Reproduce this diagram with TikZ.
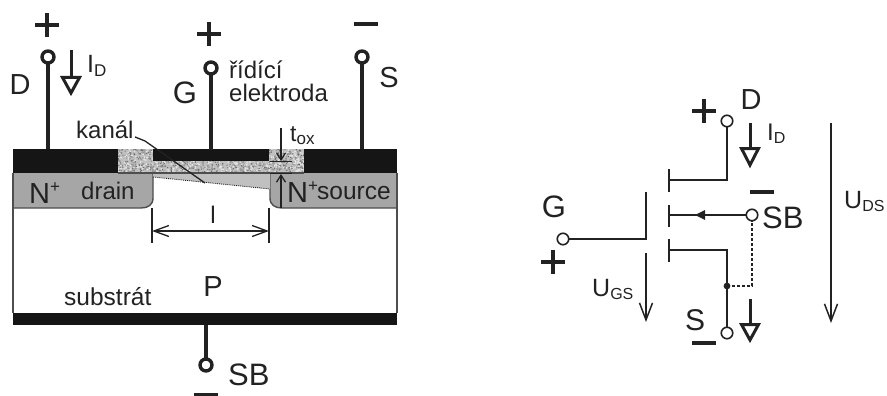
\documentclass[tikz,border=0pt]{standalone}
\usepackage{fontspec}
\setmainfont{Liberation Sans}
\usetikzlibrary{arrows.meta}
\definecolor{ink}{HTML}{222222}
\definecolor{metal}{HTML}{151515}
\definecolor{nreg}{HTML}{A6A6A6}
\definecolor{chan}{HTML}{C0C0C0}
\definecolor{oxide}{HTML}{C0C0C0}
\tikzset{
  lab/.style={inner sep=0,text=ink,font=\fontsize{#1}{#1}\selectfont},
  lab/.default=27,
  term/.style={circle,draw=ink,line width=3.4pt,fill=white,minimum size=12pt,inner sep=0,outer sep=0},
  oterm/.style={circle,draw=ink,line width=1.6pt,fill=white,minimum size=11.5pt,inner sep=0,outer sep=0},
  lead/.style={draw=ink,line width=3.4pt},
  wire/.style={draw=ink,line width=1.6pt},
  sign/.style={draw=ink,line width=4.6pt},
  hollow/.style={draw=ink,line width=3pt,fill=white,line join=miter},
  thin line/.style={draw=ink,line width=1.3pt},
  barb/.style={thin line,-{Straight Barb[length=7pt,width=9pt]}},
  volt/.style={draw=ink,line width=1.5pt,-{Straight Barb[length=17pt,width=13pt]}},
}
\newcommand{\plusmark}[2]{\draw[sign] (#1-12,#2) -- (#1+12,#2) (#1,#2-12) -- (#1,#2+12);}
\newcommand{\minusmark}[2]{\draw[sign] (#1-12,#2) -- (#1+12,#2);}
\newcommand{\currentarrow}[4]{% x, top, triangle top, tip
  \draw[draw=ink,line width=3pt] (#1,#2) -- (#1,#3);
  \draw[hollow] (#1-8.5,#3+1.5) -- (#1+8.5,#3+1.5) -- (#1,#4-3) -- cycle;}
\begin{document}
\begin{tikzpicture}[x=1pt,y=-1pt]
\useasboundingbox (0,0) rectangle (887,396);
% --- cross-section ---
\fill[white] (13,173) rectangle (397,325);
% N+ regions
\fill[nreg] (13,173) -- (153,173) -- (153,198) .. controls (153,205) and (148,208) .. (141,208) -- (13,208) -- cycle;
\fill[nreg] (397,173) -- (270,173) -- (270,198) .. controls (270,205) and (275,208) .. (282,208) -- (397,208) -- cycle;
\draw[draw=ink!80,line width=1.4pt] (153,173) -- (153,198) .. controls (153,205) and (148,208) .. (141,208) -- (13,208);
\draw[draw=ink!80,line width=1.4pt] (270,173) -- (270,198) .. controls (270,205) and (275,208) .. (282,208) -- (397,208);
% channel
\fill[chan] (153,173) -- (270,173) -- (270,189) -- (153,177) -- cycle;
\draw[draw=ink,line width=.9pt,densely dotted] (153,177) -- (270,189);
% oxide
\fill[oxide] (118,149) rectangle (304,173);
\begin{scope}
\clip (118,149) rectangle (304,173);
\pgfmathsetseed{42}
\foreach \i in {1,...,1300}{
  \pgfmathsetmacro{\px}{118+186*rnd}
  \pgfmathsetmacro{\py}{149+24*rnd}
  \pgfmathsetmacro{\ps}{int(rnd*3)}
  \ifnum\ps=0 \fill[white!90!black] (\px,\py) circle (1pt);\else\ifnum\ps=1 \fill[black!60] (\px,\py) circle (.7pt);\else\fill[black!40] (\px,\py) circle (1pt);\fi\fi
}
\end{scope}
% metal
\fill[metal] (13,149) rectangle (118,173);
\fill[metal] (304,149) rectangle (397,173);
\fill[metal] (153,148.6) rectangle (269,160.5);
\fill[metal] (13,313) rectangle (397,325);
\draw[draw=ink!80,line width=1.4pt] (13,173) -- (13,313) (397,173) -- (397,313);
\draw[draw=ink!80,line width=1.2pt] (118,173) -- (304,173);
% terminals
\node[term] (tD) at (48,57) {};
\node[term] (tG) at (211,68) {};
\node[term] (tS) at (362,57) {};
\node[term] (tSB) at (206,365) {};
\coordinate (pD) at (48,149);
\coordinate (pG) at (211,150);
\coordinate (pS) at (362,149);
\coordinate (pB) at (206,325);
\draw[lead] (tD) -- (pD);
\draw[lead] (tG) -- (pG);
\draw[lead] (tS) -- (pS);
\draw[lead] (tSB) -- (pB);
\plusmark{47}{25}
\plusmark{209}{34}
\minusmark{366}{24}
\minusmark{206}{395.5}
\currentarrow{71}{50}{76}{96}
% labels left
\node[lab=25,anchor=base west] (lID) at (87,73) {I\raisebox{-3.5pt}{\fontsize{17}{17}\selectfont D}};
\node[lab=29] (lD) at (20,85) {D};
\node[lab=31] (lG) at (185,93) {G};
\node[lab=29] (lS) at (389,78) {S};
\node[lab=24,anchor=base west] (lr) at (229,78) {řídící};
\node[lab=24,anchor=base west] (le) at (229,102) {elektroda};
\node[lab=24,anchor=base west] (lk) at (76,139) {kanál};
\node[lab=29,anchor=base west] (lNa) at (29,203) {N\raisebox{11pt}{\fontsize{17}{17}\selectfont +}};
\node[lab=24,anchor=base west] (ldr) at (81,199) {drain};
\node[lab=29,anchor=base west] (lNb) at (287,202) {N\raisebox{11pt}{\fontsize{17}{17}\selectfont +}};
\node[lab=24.5,anchor=base west] (lso) at (317,199) {source};
\node[lab=24] (ll) at (213,215) {l};
\node[lab=29] (lP) at (213,287) {P};
\node[lab=24.5,anchor=base west] (lsu) at (64,305) {substrát};
\node[lab=31,anchor=base west] (lSB) at (228,385) {SB};
\node[lab=23,anchor=base west] (ltox) at (290,141) {t\raisebox{-3.5pt}{\fontsize{17}{17}\selectfont ox}};
% kanál leader
\coordinate (k1) at (135,137);
\coordinate (k2) at (145,141);
\coordinate (k3) at (205,183);
\draw[thin line] (k1) -- (k2) -- (k3);
% tox
\coordinate (ta) at (281,128); \coordinate (tb) at (281,161);
\coordinate (tc) at (281,208); \coordinate (td) at (281,174);
\draw[barb] (ta) -- (tb);
\draw[barb] (tc) -- (td);
\draw[thin line] (270,161.5) -- (292,161.5) (270,173.5) -- (292,173.5);
% l dimension
\coordinate (la) at (152,231); \coordinate (lb) at (269,231);
\draw[thin line] (152,208) -- (152,243) (269,208) -- (269,243);
\draw[thin line,{Straight Barb[length=15pt,width=11pt]}-{Straight Barb[length=15pt,width=11pt]}] (la) -- (lb);
% --- symbol ---
\node[oterm] (D) at (727,121) {};
\node[oterm] (SBn) at (752,215) {};
\node[oterm] (Sn) at (727,333) {};
\node[oterm] (Gn) at (563,239) {};
\coordinate (dtick) at (669,180);
\coordinate (stick) at (669,250);
\coordinate (btick) at (669,215);
\coordinate (gtick) at (646,239);
\coordinate (junc) at (727,286);
\draw[wire] (D) |- (dtick);
\draw[wire] (Sn) |- (stick);
\draw[wire] (SBn) -- (btick);
\draw[wire] (Gn) -- (gtick);
\fill[ink] (695,215) -- (705,210) -- (705,220) -- cycle;
\draw[wire] (669,169) -- (669,192) (669,205) -- (669,227) (669,239) -- (669,262);
\draw[wire] (646,192) -- (646,239.8);
\fill[ink] (junc) circle (3.4pt);
\draw[draw=ink,line width=1.5pt,densely dashed] (junc) -| (SBn);
\currentarrow{750}{123}{147}{168}
\currentarrow{750}{299}{323}{343}
\plusmark{704}{111}
\plusmark{553}{262}
\minusmark{762}{192}
\minusmark{704}{343}
\coordinate (ugsa) at (646,253); \coordinate (ugsb) at (646,322);
\coordinate (udsa) at (831,123); \coordinate (udsb) at (831,323);
\draw[volt] (ugsa) -- (ugsb);
\draw[volt] (udsa) -- (udsb);
\node[lab=29] (rD) at (751,100) {D};
\node[lab=31] (rG) at (554,207) {G};
\node[lab=30] (rS) at (695,320) {S};
\node[lab=31,anchor=base west] (rSB) at (762,228) {SB};
\node[lab=24,anchor=base west] (rID) at (767,140) {I\raisebox{-3.5pt}{\fontsize{16}{16}\selectfont D}};
\node[lab=25,anchor=base west] (rGS) at (592,296) {U\raisebox{-3.5pt}{\fontsize{16}{16}\selectfont GS}};
\node[lab=25,anchor=base west] (rDS) at (844,208) {U\raisebox{-3.5pt}{\fontsize{16}{16}\selectfont DS}};
\end{tikzpicture}
\end{document}
